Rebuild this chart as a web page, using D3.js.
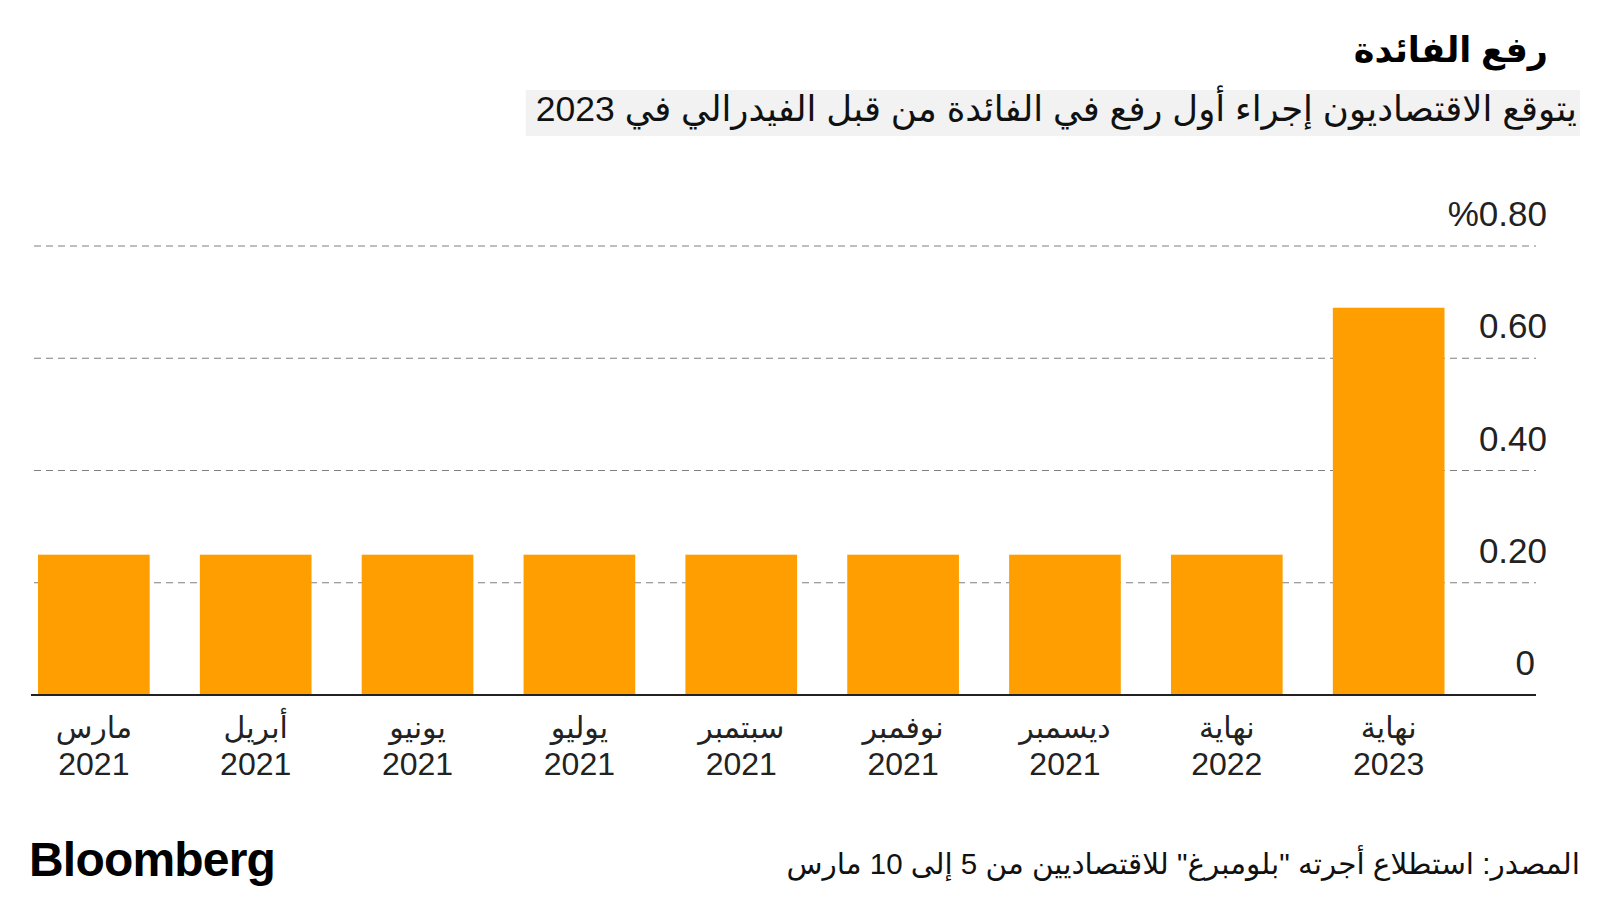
<!DOCTYPE html>
<html><head><meta charset="utf-8">
<script src="https://cdn.jsdelivr.net/npm/d3@7"></script>
<style>
html,body{margin:0;padding:0;background:#fff;}
svg{display:block;}
</style></head>
<body>
<script>
const categories = [
  ["مارس","2021"],["أبريل","2021"],["يونيو","2021"],["يوليو","2021"],["سبتمبر","2021"],
  ["نوفمبر","2021"],["ديسمبر","2021"],["نهاية","2022"],["نهاية","2023"]
];
const values = [0.25,0.25,0.25,0.25,0.25,0.25,0.25,0.25,0.69];
const tickValues = [0,0.2,0.4,0.6,0.8];
const tickLabels = ["0","0.20","0.40","0.60","%0.80"];
const title = "رفع الفائدة";
const subtitle = "يتوقع الاقتصاديون إجراء أول رفع في الفائدة من قبل الفيدرالي في 2023";
const source = "المصدر: استطلاع أجرته \"بلومبرغ\"  للاقتصاديين من 5 إلى 10 مارس";

const W=1600,H=900;
const FONT = "'Liberation Sans','DejaVu Sans',sans-serif";
const svg = d3.select("body").append("svg").attr("width",W).attr("height",H)
  .style("font-family",FONT);

const keys = categories.map((c,i)=>i);
const x = d3.scaleBand().domain(keys).range([38,1444.5]).paddingInner(0.31).paddingOuter(0);
const y = d3.scaleLinear().domain([0,0.8]).range([695,246]);

// gridlines
svg.append("g").selectAll("line").data(tickValues.filter(d=>d>0)).join("line")
  .attr("x1",34).attr("x2",1536).attr("y1",d=>y(d)).attr("y2",d=>y(d))
  .attr("stroke","#808080").attr("stroke-width",1.2).attr("stroke-dasharray","7,5");

// bars
svg.append("g").selectAll("rect").data(values).join("rect")
  .attr("x",(d,i)=>x(i)).attr("width",x.bandwidth())
  .attr("y",d=>y(d)).attr("height",d=>y(0)-y(d))
  .attr("fill","#FF9E00");

// baseline
svg.append("line").attr("x1",31).attr("x2",1536).attr("y1",y(0)).attr("y2",y(0))
  .attr("stroke","#222").attr("stroke-width",2);

// y tick labels
svg.append("g").selectAll("text").data(tickValues).join("text")
  .attr("x",1547).attr("y",d=>y(d)-20).attr("dx",d=>d===0?-12:0)
  .attr("text-anchor","end").attr("font-size",35).attr("fill","#222")
  .attr("direction","ltr").style("unicode-bidi","bidi-override")
  .text((d,i)=>tickLabels[i]);

// x labels
const xl = svg.append("g").selectAll("g").data(categories).join("g")
  .attr("transform",(d,i)=>`translate(${x(i)+x.bandwidth()/2},0)`);
xl.append("text").attr("y",738).attr("text-anchor","middle").attr("font-size",30)
  .attr("fill","#222").text(d=>d[0]);
xl.append("text").attr("y",775).attr("text-anchor","middle").attr("font-size",32)
  .attr("fill","#222").text(d=>d[1]);

// title
svg.append("text").attr("x",1548).attr("y",62).attr("direction","rtl").attr("text-anchor","start")
  .attr("font-size",35).attr("font-weight","bold").attr("fill","#000").text(title);

// subtitle with background
const subBg = svg.append("rect").attr("fill","#f2f2f2");
const sub = svg.append("text").attr("x",1577).attr("y",121).attr("direction","rtl").attr("text-anchor","start")
  .attr("font-size",35.5).attr("fill","#111").text(subtitle);
const bb = sub.node().getBBox();
subBg.attr("x",bb.x-10).attr("y",90).attr("width",1580-(bb.x-10)).attr("height",46);

// footer
svg.append("text").attr("x",29).attr("y",876).attr("font-size",48).attr("font-weight","bold")
  .attr("letter-spacing",-0.8).attr("fill","#000").text("Bloomberg");
svg.append("text").attr("x",1580).attr("y",874).attr("direction","rtl").attr("text-anchor","start")
  .attr("font-size",29.5).attr("fill","#111").text(source);
</script>
</body></html>
